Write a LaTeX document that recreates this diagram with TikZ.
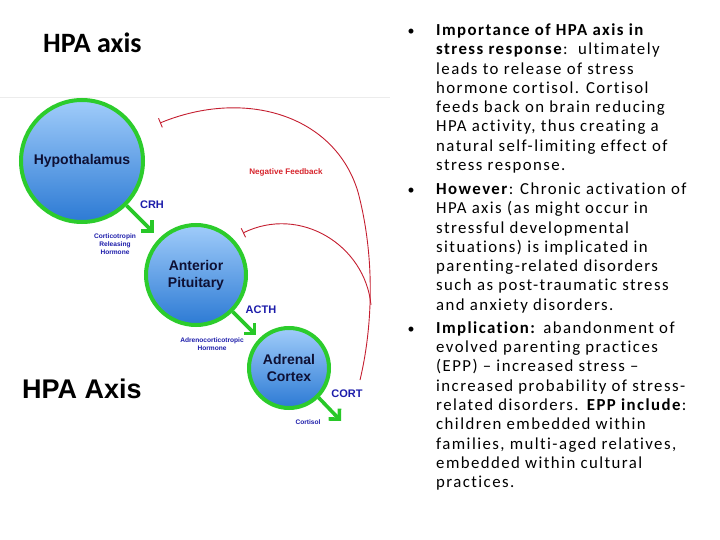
\documentclass[tikz,border=0pt]{standalone}
\usepackage{fontspec}
\setmainfont{Carlito}
\newfontfamily\bodyfont{Carlito}[LetterSpace=8.5,Ligatures={NoCommon}]
\newfontfamily\diag{Liberation Sans}
\usetikzlibrary{arrows.meta}
\definecolor{ringgreen}{RGB}{44,204,44}
\definecolor{arrowgreen}{RGB}{40,200,40}
\definecolor{orgtext}{RGB}{14,16,52}
\definecolor{lblblue}{RGB}{28,28,170}
\definecolor{fbred}{RGB}{196,30,48}
\definecolor{fbtext}{RGB}{214,36,44}
\definecolor{bluetop}{RGB}{160,204,250}
\definecolor{bluebot}{RGB}{44,122,212}
\tikzset{
  organ/.style={circle, draw=ringgreen, line width=4pt, top color=bluetop, bottom color=bluebot,
    font=\diag\bfseries\fontsize{14}{17}\selectfont, text=orgtext, align=center, inner sep=0pt},
  lbl/.style={font=\diag\bfseries\fontsize{11}{13}\selectfont, text=lblblue, inner sep=0pt},
  small/.style={font=\diag\bfseries\fontsize{6.6}{8}\selectfont, text=lblblue, align=center, inner sep=0pt},
  fb/.style={font=\diag\bfseries\fontsize{8.1}{10}\selectfont, text=fbtext, inner sep=0pt},
  garrow/.style={draw=arrowgreen, line width=3.6pt, -{Straight Barb[length=7.5pt,width=15pt]}},
  fbline/.style={draw=fbred, line width=0.9pt, -{Bar[width=10pt,line width=0.9pt]}},
  bodytext/.style={anchor=base west, inner sep=0pt, font=\bodyfont\fontsize{16.8}{19.3}\selectfont},
  bulletmark/.style={anchor=base, inner sep=0pt, font=\fontsize{14}{19.3}\selectfont}
}
\begin{document}
\begin{tikzpicture}[x=1pt,y=-1pt]
\useasboundingbox (0,0) rectangle (720,540);
% faint top edge of the pasted figure
\coordinate (edgeL) at (0,97);
\coordinate (edgeR) at (390,97);
\draw[gray!15, line width=0.8pt] (edgeL) -- (edgeR);

% title
\node[anchor=base west, inner sep=0pt, font=\bfseries\fontsize{28}{32}\selectfont] (title) at (43,53) {HPA axis};

% organs
\node[organ, minimum size=122pt] (hyp) at (82,161) {Hypothalamus};
\node[organ, minimum size=100pt] (pit) at (196,275) {Anterior\\Pituitary};
\node[organ, minimum size=80pt] (adr) at (289,368) {Adrenal\\Cortex};

% hormone arrows
\coordinate (cortend) at (341,421);
\draw[garrow, shorten >=8pt] (hyp.-45) -- (pit.135);
\draw[garrow, shorten >=4pt] (pit.-45) -- (adr.135);
\draw[garrow] (adr.-45) -- (cortend);

% labels
\node[lbl] (crh) at (152,205) {CRH};
\node[small] (crhname) at (115,244) {Corticotropin\\Releasing\\Hormone};
\node[lbl] (acth) at (261,310) {ACTH};
\node[small] (acthname) at (212,344) {Adrenocorticotropic\\Hormone};
\node[lbl] (cort) at (347,394) {CORT};
\node[small] (cortname) at (308,422) {Cortisol};
\node[fb] (nf) at (286,172) {Negative Feedback};

% big label
\node[anchor=base west, inner sep=0pt, font=\diag\bfseries\fontsize{27}{30}\selectfont] (axis) at (22,398) {HPA Axis};

% negative feedback curves
\coordinate (fbstart) at (360,380);
\coordinate (fbmid) at (358,192);
\coordinate (hypbar) at (160,123);
\coordinate (fbjoin) at (371,305);
\coordinate (pitbar) at (243,233);
\draw[fbline] (fbstart) .. controls (372,330) and (376,260) .. (fbmid) .. controls (335,115) and (245,88) .. (hypbar);
\draw[fbline] (fbjoin) .. controls (365,245) and (300,205) .. (pitbar);

% bullets
\node[bulletmark] (d1) at (411,35.5) {\textbullet};
\node[bulletmark] (d2) at (411,194.5) {\textbullet};
\node[bulletmark] (d3) at (411,333.3) {\textbullet};

\node[bodytext] (b1) at (436,35.5) {\begin{minipage}[t]{285pt}\raggedright
\textbf{Importance of HPA axis in}\\
\textbf{stress response}:\ \ ultimately\\
leads to release of stress\\
hormone cortisol. Cortisol\\
feeds back on brain reducing\\
HPA activity, thus creating a\\
natural self-limiting effect of\\
stress response.\end{minipage}};

\node[bodytext] (b2) at (436,194.5) {\begin{minipage}[t]{285pt}\raggedright
\textbf{However}: Chronic activation of\\
HPA axis (as might occur in\\
stressful developmental\\
situations) is implicated in\\
parenting-related disorders\\
such as post-traumatic stress\\
and anxiety disorders.\end{minipage}};

\node[bodytext] (b3) at (436,333.3) {\begin{minipage}[t]{285pt}\raggedright
\textbf{Implication:} abandonment of\\
evolved parenting practices\\
(EPP) – increased stress –\\
increased probability of stress-\\
related disorders. \textbf{EPP include}:\\
children embedded within\\
families, multi-aged relatives,\\
embedded within cultural\\
practices.\end{minipage}};
\end{tikzpicture}
\end{document}
